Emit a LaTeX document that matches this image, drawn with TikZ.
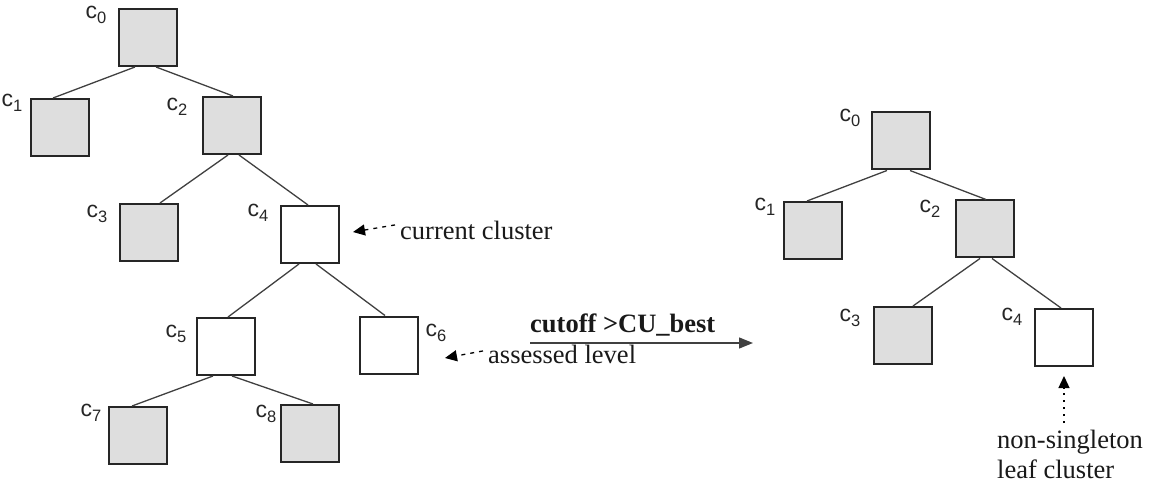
\documentclass[tikz,border=0pt]{standalone}
\usepackage{fontspec}
\setmainfont{Liberation Serif}
\newfontfamily\lblfont{Liberation Sans}
\usetikzlibrary{arrows.meta,calc}
\newcommand{\clab}[1]{{\fontsize{23}{23}\selectfont c}{\fontsize{16.5}{16.5}\selectfont\raisebox{-5.5pt}{#1}}}
\begin{document}
\begin{tikzpicture}[x=1pt,y=-1pt,
  box/.style={draw=black!85, line width=2pt, minimum width=58pt, minimum height=57pt, inner sep=0pt},
  filled/.style={box, fill=gray!26},
  empty/.style={box, fill=white},
  edge/.style={line width=1.3pt, draw=black!75},
  lbl/.style={font=\lblfont, inner sep=0pt, text=black!85},
  txt/.style={font=\fontsize{26.5}{30}\selectfont, inner sep=0pt, text=black!90},
  head/.style={-{Triangle[length=12pt,width=11pt]}}
]
\useasboundingbox (0,0) rectangle (1149,489);
% left tree
\node[filled] (L0) at (147.5,37.5) {};
\node[filled] (L1) at (59.5,127.5) {};
\node[filled] (L2) at (231.5,125.5) {};
\node[filled] (L3) at (149,232.5) {};
\node[empty]  (L4) at (310,234.5) {};
\node[empty]  (L5) at (226,346.5) {};
\node[empty]  (L6) at (389,345) {};
\node[filled] (L7) at (137.5,435.5) {};
\node[filled] (L8) at (310,433.5) {};
\draw[edge] ([xshift=-12.5pt]L0.south) -- ([xshift=-6.5pt]L1.north);
\draw[edge] ([xshift=8.5pt]L0.south) -- ([xshift=1.5pt]L2.north);
\draw[edge] ([xshift=-3.5pt]L2.south) -- ([xshift=11pt]L3.north);
\draw[edge] ([xshift=7.5pt]L2.south) -- ([xshift=-2pt]L4.north);
\draw[edge] ([xshift=-11pt]L4.south) -- ([xshift=2pt]L5.north);
\draw[edge] ([xshift=6pt]L4.south) -- ([xshift=-4pt]L6.north);
\draw[edge] ([xshift=-13pt]L5.south) -- ([xshift=-5.5pt]L7.north);
\draw[edge] ([xshift=6pt]L5.south) -- ([xshift=3pt]L8.north);
\node[lbl] (lc0) at (96,15) {\clab{0}};
\node[lbl] (lc1) at (12,103) {\clab{1}};
\node[lbl] (lc2) at (177,107) {\clab{2}};
\node[lbl] (lc3) at (97,214) {\clab{3}};
\node[lbl] (lc4) at (258,213) {\clab{4}};
\node[lbl] (lc5) at (176,334) {\clab{5}};
\node[lbl] (lc6) at (436,333) {\clab{6}};
\node[lbl] (lc7) at (91,413) {\clab{7}};
\node[lbl] (lc8) at (266,414) {\clab{8}};
% right tree
\node[filled] (R0) at (900.5,141) {};
\node[filled] (R1) at (812.5,230.5) {};
\node[filled] (R2) at (984.5,229) {};
\node[filled] (R3) at (902.5,335.5) {};
\node[empty]  (R4) at (1063.5,337.5) {};
\draw[edge] ([xshift=-13.5pt]R0.south) -- ([xshift=-5.5pt]R1.north);
\draw[edge] ([xshift=9.5pt]R0.south) -- ([xshift=1.5pt]R2.north);
\draw[edge] ([xshift=-4.5pt]R2.south) -- ([xshift=10.5pt]R3.north);
\draw[edge] ([xshift=7.5pt]R2.south) -- ([xshift=-2.5pt]R4.north);
\node[lbl] (rc0) at (850,118) {\clab{0}};
\node[lbl] (rc1) at (765,207) {\clab{1}};
\node[lbl] (rc2) at (930,209) {\clab{2}};
\node[lbl] (rc3) at (850,318) {\clab{3}};
\node[lbl] (rc4) at (1012,317) {\clab{4}};
% annotations
\node[txt, anchor=base west] (cur) at (400,240) {current cluster};
\coordinate (curtip) at (353,232);
\draw[head, line width=1.3pt, dash pattern=on 4pt off 5pt] ([xshift=-5pt,yshift=6pt]cur.west) -- (curtip);
\node[txt, anchor=base west] (ass) at (488,363) {assessed level};
\coordinate (asstip) at (445,358);
\draw[head, line width=1.3pt, dash pattern=on 4pt off 5pt] ([xshift=-5pt,yshift=3pt]ass.west) -- (asstip);
\coordinate (ma) at (530,343);
\coordinate (mb) at (753,343);
\draw[edge, -{Triangle[length=14pt,width=11pt]}] (ma) -- (mb);
\node[txt, anchor=base west] (cut) at (530,332) {\textbf{cutoff >CU\_best}};
\node[txt, anchor=north west, align=left] (ns) at (997,430) {non-singleton\\leaf cluster};
\coordinate (nstip) at (1064,376);
\draw[head, line width=1.3pt, dash pattern=on 2pt off 5pt] (1064,423) -- (nstip);
\end{tikzpicture}
\end{document}
